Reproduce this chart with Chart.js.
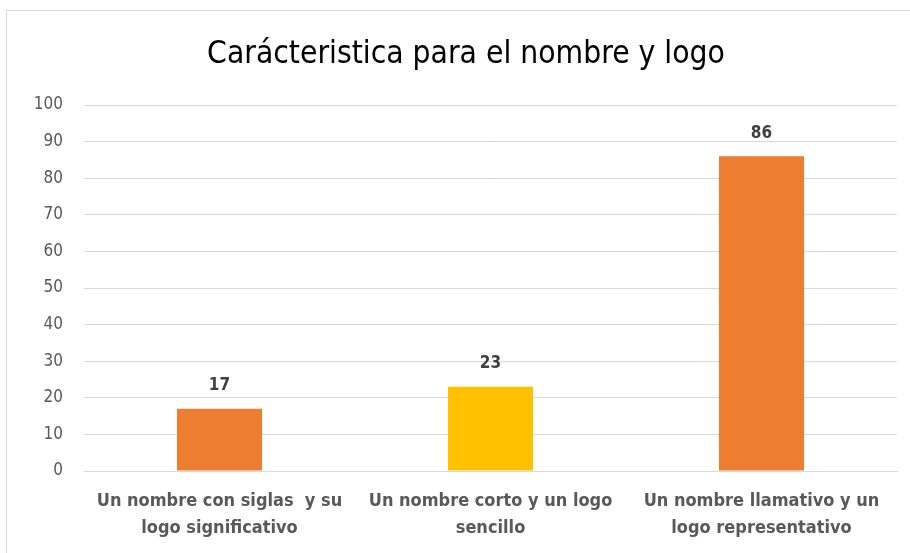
<!DOCTYPE html>
<html>
<head>
<meta charset="utf-8">
<script src="https://cdn.jsdelivr.net/npm/chart.js@4"></script>
<style>
  body { margin: 0; background: #fff; overflow: hidden; }
  #frame {
    position: absolute; left: 6px; top: 10px; width: 920px; height: 560px;
    border: 1px solid #d9d9d9; box-sizing: border-box;
  }
  #wrap { position: absolute; left: 0; top: 0; width: 910px; height: 553px; }
</style>
</head>
<body>
<div id="frame"></div>
<div id="wrap"><canvas id="chart" width="910" height="553"></canvas></div>
<script>
const categories = [
  ["Un nombre con siglas  y su", "logo significativo"],
  ["Un nombre corto y un logo", "sencillo"],
  ["Un nombre llamativo y un", "logo representativo"]
];
const values = [17, 23, 86];
const barColors = ["#ED7D31", "#FFC000", "#ED7D31"];
const yTicks = [0, 10, 20, 30, 40, 50, 60, 70, 80, 90, 100];
const titleText = "Carácteristica para el nombre y logo";

const fontStack = "'Liberation Sans Narrow', 'DejaVu Sans Condensed', 'Liberation Sans', sans-serif";

// Title centred on the whole frame, plus values above the bars
const annotations = {
  id: "annotations",
  afterDatasetsDraw(chart) {
    const ctx = chart.ctx;
    ctx.save();
    ctx.font = "31.5px " + fontStack;
    ctx.fillStyle = "#000000";
    ctx.textAlign = "center";
    ctx.textBaseline = "middle";
    ctx.fillText(titleText, 466, 55);

    const meta = chart.getDatasetMeta(0);
    ctx.font = "bold 17px " + fontStack;
    ctx.fillStyle = "#404040";
    meta.data.forEach((bar, i) => {
      ctx.fillText(String(values[i]), bar.x, bar.y - 23);
    });
    ctx.restore();
  }
};

new Chart(document.getElementById("chart").getContext("2d"), {
  type: "bar",
  data: {
    labels: categories,
    datasets: [
      {
        data: values,
        backgroundColor: barColors,
        borderWidth: 0,
        barPercentage: 0.314,
        categoryPercentage: 1.0,
      },
    ],
  },
  options: {
    responsive: false,
    animation: false,
    layout: { padding: { top: 105, right: 13, bottom: 0, left: 0 } },
    plugins: {
      legend: { display: false },
      tooltip: { enabled: false },
      title: { display: false },
    },
    scales: {
      x: {
        grid: { display: false, drawTicks: false },
        border: { color: "#d9d9d9" },
        ticks: {
          color: "#595959",
          font: { family: fontStack, size: 18, weight: "bold", lineHeight: 1.5 },
          padding: 17,
          maxRotation: 0,
          autoSkip: false,
        },
        afterFit(scale) { scale.height = 82; },
      },
      y: {
        min: 0,
        max: 100,
        grid: { color: "#d9d9d9", drawTicks: false },
        border: { display: false },
        ticks: {
          stepSize: 10,
          color: "#595959",
          font: { family: fontStack, size: 17 },
          padding: 21,
          callback: (v) => (yTicks.includes(v) ? String(v) : ""),
        },
        afterFit(scale) { scale.width = 84; },
      },
    },
  },
  plugins: [annotations],
});
</script>
</body>
</html>
